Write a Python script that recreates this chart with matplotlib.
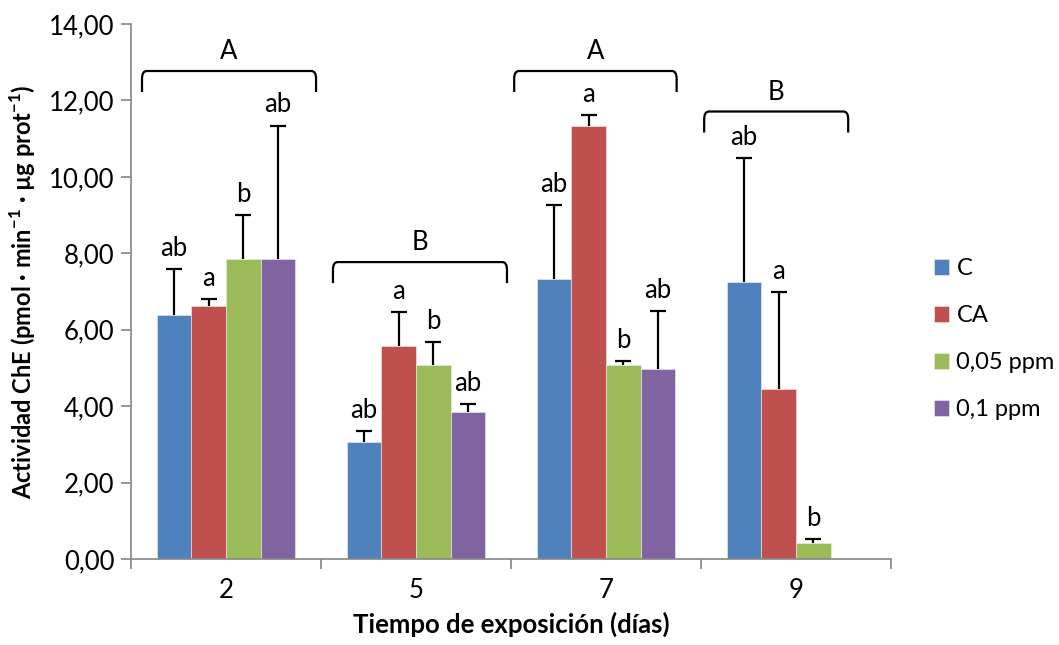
import numpy as np
import matplotlib
matplotlib.use("Agg")
import matplotlib.pyplot as plt
from matplotlib.path import Path
from matplotlib.patches import PathPatch

# ---- data ----
days = ["2", "5", "7", "9"]
series = ["C", "CA", "0,05 ppm", "0,1 ppm"]
val_C = [6.39, 3.05, 7.33, 7.24]
val_CA = [6.63, 5.57, 11.33, 4.44]
val_005 = [7.84, 5.08, 5.09, 0.43]
val_01 = [7.85, 3.84, 4.96, np.nan]
err_C = [1.19, 0.30, 1.93, 3.25]
err_CA = [0.17, 0.89, 0.29, 2.54]
err_005 = [1.16, 0.60, 0.09, 0.09]
err_01 = [3.49, 0.21, 1.52, np.nan]
let_C = ["ab", "ab", "ab", "ab"]
let_CA = ["a", "a", "a", "a"]
let_005 = ["b", "b", "b", "b"]
let_01 = ["ab", "ab", "ab", ""]
group_letters = ["A", "B", "A", "B"]
bracket_y = [12.77, 7.77, 12.77, 11.71]
bracket_x0 = [0.058, 1.063, 2.017, 3.017]
bracket_x1 = [0.974, 1.979, 2.872, 3.775]

colors = ["#4F81BD", "#C0504D", "#9BBB59", "#8064A2"]

plt.rcParams['font.family'] = ['Lato', 'DejaVu Sans']
plt.rcParams['mathtext.fontset'] = 'custom'
plt.rcParams['mathtext.rm'] = 'Lato'
plt.rcParams['mathtext.bf'] = 'Lato:bold'

FS = 18.5

fig = plt.figure(figsize=(10.59, 6.45), dpi=100)
ax = fig.add_axes([0.1237, 0.1333, 0.8413 - 0.1237, 0.9628 - 0.1333])

vals = [val_C, val_CA, val_005, val_01]
errs = [err_C, err_CA, err_005, err_01]
lets = [let_C, let_CA, let_005, let_01]
centers = np.arange(len(days)) + 0.5
bw = 0.182
for i in range(4):
    x = centers + (i - 1.5) * bw
    v = np.array(vals[i], dtype=float)
    e = np.array(errs[i], dtype=float)
    ax.bar(x, v, width=bw, color=colors[i], label=series[i],
           edgecolor='#f0f0f0', linewidth=0.4, zorder=2)
    ax.vlines(x, v, v + e, colors='black', linewidth=1.6, zorder=3)
    ax.plot(x, v + e, linestyle='none', marker='_', markersize=11,
            markeredgewidth=1.6, color='black', zorder=3)
    for xi, vi, ei, li in zip(x, v, e, lets[i]):
        if li and not np.isnan(vi):
            ax.annotate(li, (xi, vi + ei), xytext=(0, 6), textcoords='offset points',
                        ha='center', va='bottom', fontsize=FS)

# group brackets
rx, ry = 0.025, 0.2
for x0, x1, yb, gl in zip(bracket_x0, bracket_x1, bracket_y, group_letters):
    yl = yb - 0.55
    verts = [(x0, yl), (x0, yb - ry), (x0, yb), (x0 + rx, yb),
             (x1 - rx, yb), (x1, yb), (x1, yb - ry), (x1, yl)]
    codes = [Path.MOVETO, Path.LINETO, Path.CURVE3, Path.CURVE3,
             Path.LINETO, Path.CURVE3, Path.CURVE3, Path.LINETO]
    ax.add_patch(PathPatch(Path(verts, codes), fill=False, edgecolor='black',
                           linewidth=1.6, zorder=3))
    ax.text((x0 + x1) / 2, yb + 0.18, gl, ha='center', va='bottom', fontsize=FS)

ax.set_xlim(0, 4)
ax.set_ylim(0, 14)
ax.set_yticks(np.arange(0, 15, 2))
ax.set_yticklabels([f"{t:.2f}".replace('.', ',') for t in np.arange(0, 15, 2)], fontsize=FS)
ax.set_xticks(np.arange(0, 5))
ax.set_xticklabels([])
ax.set_xticks(centers, minor=True)
ax.set_xticklabels(days, minor=True, fontsize=FS)
ax.tick_params(axis='x', which='minor', length=0, pad=14)
ax.tick_params(axis='both', which='major', length=7, width=1.2, color='#868686', direction='out')
ax.tick_params(axis='y', pad=5)
for s in ['top', 'right']:
    ax.spines[s].set_visible(False)
for s in ['left', 'bottom']:
    ax.spines[s].set_color('#868686')
    ax.spines[s].set_linewidth(1.2)

ax.set_xlabel("Tiempo de exposición (días)", fontsize=FS, fontweight='bold', labelpad=6)
ax.set_ylabel(r"Actividad ChE (pmol · min$^{\mathbf{-1}}$ · µg prot$^{\mathbf{-1}}$)",
              fontsize=17, fontweight='bold', labelpad=8)

leg = fig.legend(*ax.get_legend_handles_labels(), loc='center left',
                 bbox_to_anchor=(0.882, 0.474), bbox_transform=fig.transFigure,
                 frameon=False, fontsize=17, handlelength=0.65, handleheight=0.65,
                 handletextpad=0.3, labelspacing=1.1, borderpad=0, borderaxespad=0)

fig.savefig("out.png", dpi=100)
